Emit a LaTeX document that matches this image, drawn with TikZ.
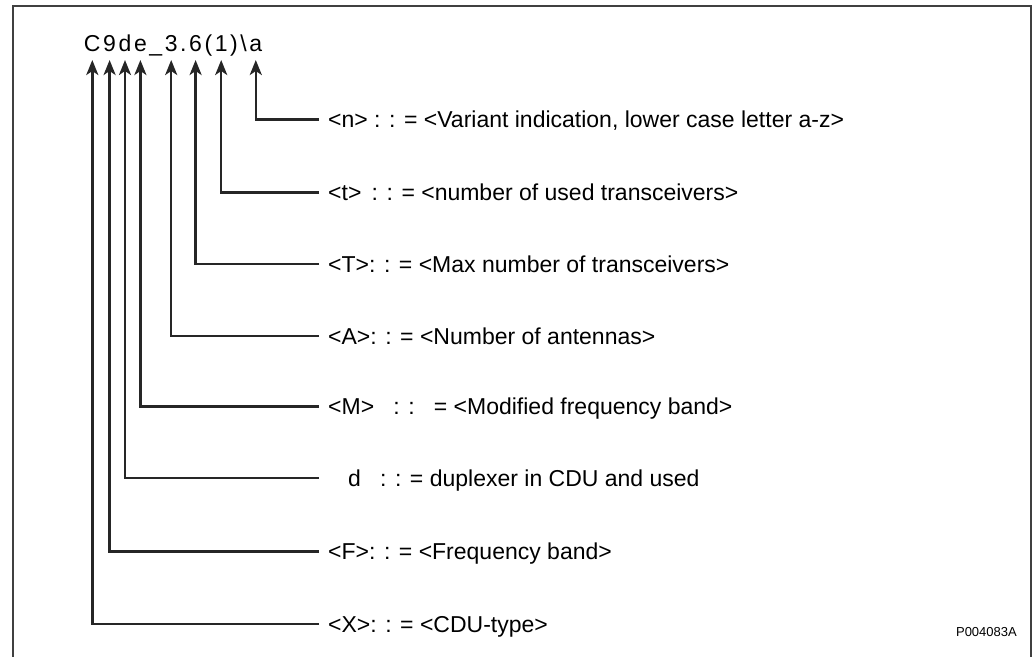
\documentclass[tikz,border=0pt]{standalone}
\usepackage{fontspec}
\setmainfont{Liberation Sans}
\usetikzlibrary{arrows.meta}

\tikzset{
  lead/.style={line width=2.5pt, black!85, -{Stealth[length=15pt,width=12pt,inset=4pt]}},
  lbl/.style={anchor=west, inner xsep=9pt, inner ysep=0pt, text height=16.5pt, text depth=0pt,
    font=\fontsize{23}{27}\selectfont},
  chr/.style={anchor=base, inner sep=0pt, font=\fontsize{23}{27}\selectfont}
}

\begin{document}
\begin{tikzpicture}[x=1pt,y=-1pt]
  \useasboundingbox (0,0) rectangle (1036,656);
  \draw[line width=2pt, black!75] (13,700) -- (13,6) -- (1031,6) -- (1031,700);

  % the code word, one letter per node
  \foreach \c/\x [count=\i] in {{C}/92.3, {9}/109.6, {d}/125, {e}/140.4, {\_}/155.8, {3}/171.2,
      {.}/183.4, {6}/195.6, {(}/208.4, {1}/221.2, {)}/234, {\textbackslash}/243.6, {a}/255.8}
    \node[chr] (ch\i) at (\x,51) {\c};

  \node[lbl] (n) at (319,119.3) {<n> : : = <Variant indication, lower case letter a-z>};
  \node[lbl] (t) at (319,192.3) {<t>\ \,: : = <number of used transceivers>};
  \node[lbl] (T) at (319,264) {<T>: : = <Max number of transceivers>};
  \node[lbl] (A) at (319,336) {<A>: : = <Number of antennas>};
  \node[lbl] (M) at (319,406.7) {<M>\ \ \ : :\ \ \ = <Modified frequency band>};
  \node[lbl] (d) at (319,478) {\hspace{20pt}d\ \ \ : : = duplexer in CDU and used};
  \node[lbl] (F) at (319,551.7) {<F>: : = <Frequency band>};
  \node[lbl] (X) at (319,624) {<X>: : = <CDU-type>};

  \draw[lead] (n.west) -| ([yshift=-9pt]ch13.base);
  \draw[lead] (t.west) -| ([yshift=-9pt]ch10.base);
  \draw[lead] (T.west) -| ([yshift=-9pt]ch8.base);
  \draw[lead] (A.west) -| ([yshift=-9pt]ch6.base);
  \draw[lead] (M.west) -| ([yshift=-9pt]ch4.base);
  \draw[lead] (d.west) -| ([yshift=-9pt]ch3.base);
  \draw[lead] (F.west) -| ([yshift=-9pt]ch2.base);
  \draw[lead] (X.west) -| ([yshift=-9pt]ch1.base);

  \node[anchor=base east, inner sep=0pt, font=\fontsize{13}{15}\selectfont] (pnum) at (1017,636) {P004083A};
\end{tikzpicture}
\end{document}
